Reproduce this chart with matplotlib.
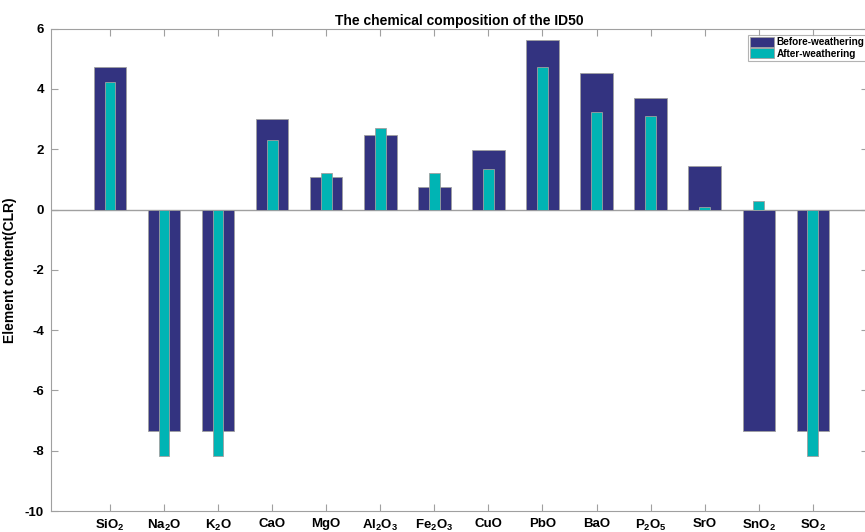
import matplotlib
matplotlib.use('Agg')
import matplotlib.pyplot as plt
import numpy as np

plt.rcParams['font.family'] = 'Liberation Sans'
plt.rcParams['font.weight'] = 'bold'
plt.rcParams['mathtext.fontset'] = 'custom'
plt.rcParams['mathtext.rm'] = 'Liberation Sans:bold'
plt.rcParams['mathtext.bf'] = 'Liberation Sans:bold'

# oxide labels (subscripts through mathtext)
oxides = ['SiO$_2$', 'Na$_2$O', 'K$_2$O', 'CaO', 'MgO', 'Al$_2$O$_3$', 'Fe$_2$O$_3$',
          'CuO', 'PbO', 'BaO', 'P$_2$O$_5$', 'SrO', 'SnO$_2$', 'SO$_2$']
before = [4.74, -7.33, -7.33, 3.01, 1.09, 2.48, 0.75, 1.98, 5.64, 4.52, 3.70, 1.44, -7.33, -7.33]
after = [4.23, -8.18, -8.18, 2.31, 1.21, 2.70, 1.21, 1.36, 4.72, 3.22, 3.11, 0.10, 0.29, -8.18]
yticks = [-10, -8, -6, -4, -2, 0, 2, 4, 6]

W, H = 865, 532
fig = plt.figure(figsize=(W / 100, H / 100), dpi=100)
ax = fig.add_axes([51 / W, 1 - 511 / H, (868 - 51) / W, (511 - 28.7) / H])

x = np.arange(1, len(oxides) + 1)
grey = '#a0a0a0'
ax.bar(x, before, width=0.6, color='#333380', edgecolor=grey, linewidth=0.6,
       label='Before-weathering', zorder=2)
ax.bar(x, after, width=0.2, color='#00b4b4', edgecolor=grey, linewidth=0.6,
       label='After-weathering', zorder=3)
ax.axhline(0, color=grey, linewidth=1.0, zorder=1)

ax.set_xlim(-0.09, 15.02)
ax.set_ylim(-10, 6)
ax.set_xticks(x)
ax.set_xticklabels(oxides, fontsize=9.5, fontweight='bold')
ax.set_yticks(yticks)
ax.set_yticklabels([str(v) for v in yticks], fontsize=9.5, fontweight='bold')
ax.tick_params(direction='in', top=True, right=True, color=grey, length=5, pad=5)
for s in ax.spines.values():
    s.set_color(grey)
    s.set_linewidth(0.8)

ax.set_title('The chemical composition of the ID50', fontsize=10, fontweight='bold', pad=3)
ax.set_ylabel('Element content(CLR)', fontsize=10, fontweight='bold')
ax.yaxis.set_label_coords((17 - 51) / 817, 0.5)

leg = ax.legend(loc='upper left', bbox_to_anchor=(748 / W, 1 - 35 / H),
                bbox_transform=fig.transFigure, fontsize=7.2, frameon=True,
                fancybox=False, edgecolor=grey, handlelength=2.4, handleheight=1.1,
                borderpad=0.2, labelspacing=0.12, handletextpad=0.25, borderaxespad=0)
leg.get_frame().set_linewidth(0.8)
for t in leg.get_texts():
    t.set_fontweight('bold')

fig.savefig('out.png', dpi=100)
